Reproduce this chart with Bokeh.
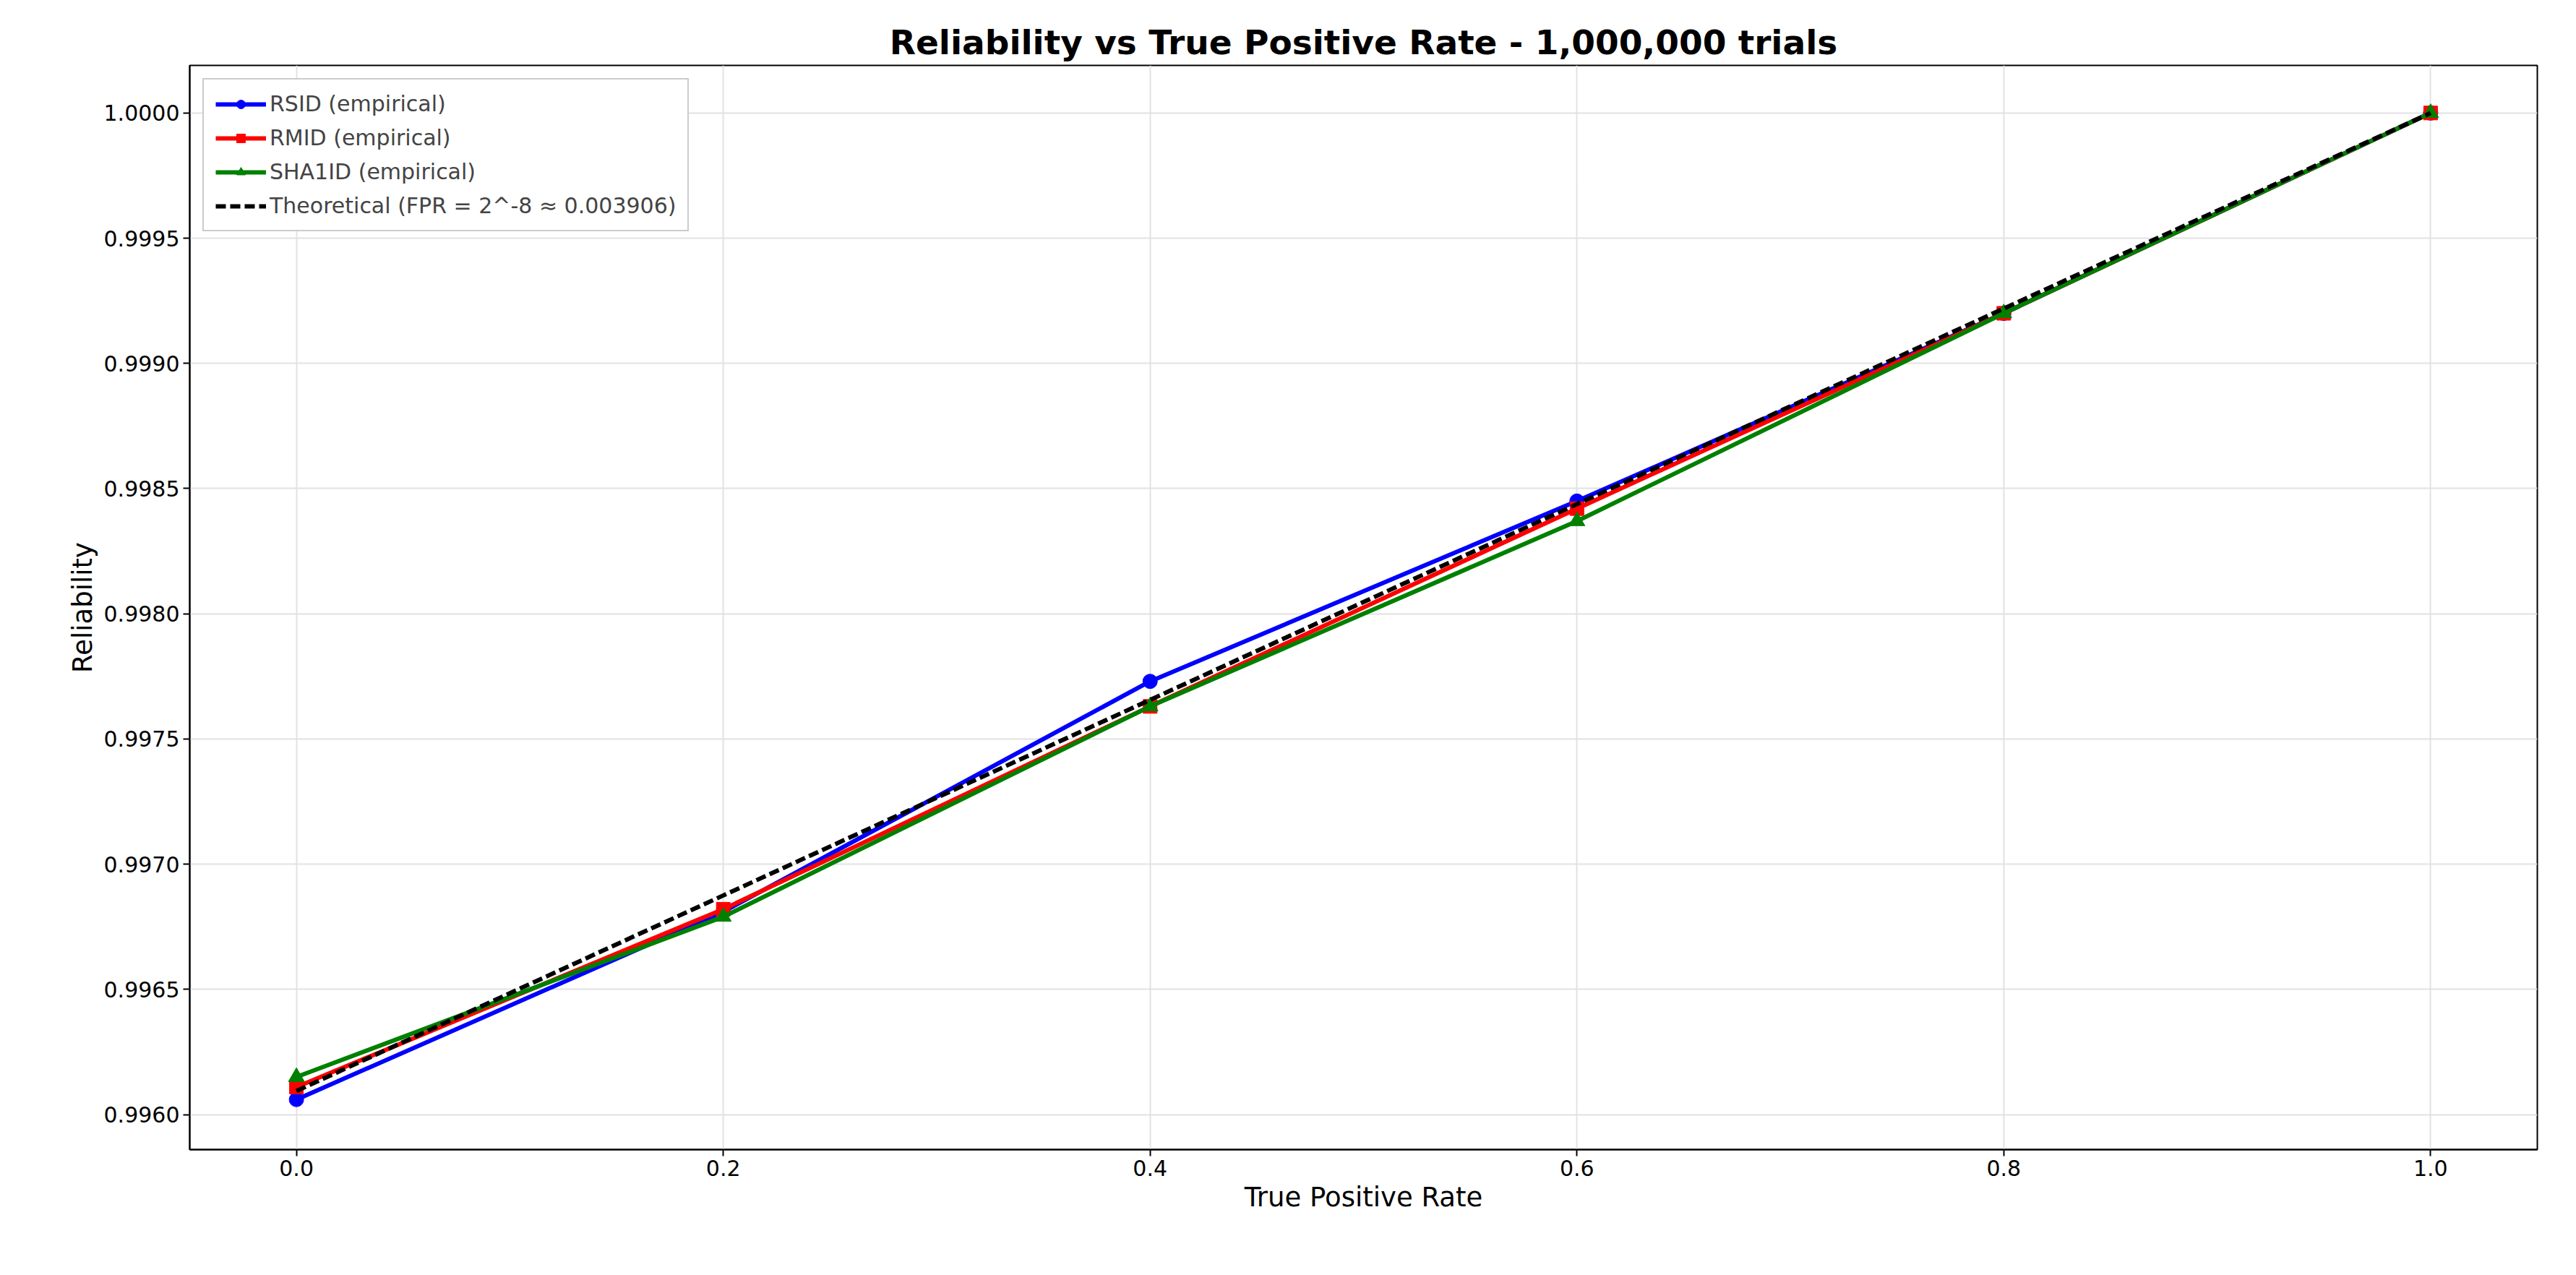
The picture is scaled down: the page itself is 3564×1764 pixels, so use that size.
from bokeh.plotting import figure
from bokeh.models import FixedTicker, NumeralTickFormatter, Range1d, Legend, LegendItem
from bokeh.embed import file_html
from bokeh.resources import INLINE

tpr = [0.0, 0.2, 0.4, 0.6, 0.8, 1.0]
rsid = [0.99606, 0.99681, 0.99773, 0.99845, 0.99920, 1.0000]
rmid = [0.99611, 0.99682, 0.99763, 0.99842, 0.99920, 1.0000]
sha1id = [0.99615, 0.99679, 0.99763, 0.99837, 0.99920, 1.0000]
theory = [0.996094, 0.996875, 0.997656, 0.998438, 0.999219, 1.0000]

x_ticks = [0.0, 0.2, 0.4, 0.6, 0.8, 1.0]
y_ticks = [0.9960, 0.9965, 0.9970, 0.9975, 0.9980, 0.9985, 0.9990, 0.9995, 1.0000]

p = figure(width=3540, height=1740, output_backend="svg", toolbar_location=None,
           x_range=Range1d(-0.05, 1.05), y_range=Range1d(0.99586, 1.00019),
           title="Reliability vs True Positive Rate - 1,000,000 trials",
           x_axis_label="True Positive Rate", y_axis_label="Reliability",
           min_border_left=262, min_border_right=30, min_border_top=90, min_border_bottom=150)

p.title.align = "center"
p.title.text_font = "DejaVu Sans"
p.title.text_font_size = "47px"
p.title.text_font_style = "bold"
p.title.text_color = "black"
for ax in (p.xaxis, p.yaxis):
    ax.axis_label_text_font = "DejaVu Sans"
    ax.axis_label_text_font_size = "37px"
    ax.axis_label_text_font_style = "normal"
    ax.axis_label_text_color = "black"
    ax.major_label_text_font = "DejaVu Sans"
    ax.major_label_text_font_size = "30px"
    ax.major_label_text_color = "black"
    ax.minor_tick_line_color = None
    ax.major_tick_in = 0
    ax.major_tick_out = 9
    ax.major_tick_line_width = 2
    ax.major_tick_line_color = "black"
    ax.axis_line_width = 2
    ax.axis_line_color = "black"
p.xaxis.ticker = FixedTicker(ticks=x_ticks)
p.yaxis.ticker = FixedTicker(ticks=y_ticks)
p.xaxis.formatter = NumeralTickFormatter(format="0.0")
p.yaxis.formatter = NumeralTickFormatter(format="0.0000")
p.grid.grid_line_color = "#e2e2e2"
p.grid.grid_line_width = 2
p.outline_line_color = "black"
p.outline_line_width = 2

r1 = p.line(tpr, rsid, line_color="blue", line_width=6)
m1 = p.scatter(tpr, rsid, marker="circle", size=20, color="blue")
r2 = p.line(tpr, rmid, line_color="red", line_width=6)
m2 = p.scatter(tpr, rmid, marker="square", size=19, color="red")
r3 = p.line(tpr, sha1id, line_color="green", line_width=6)
m3 = p.scatter(tpr, sha1id, marker="triangle", size=22, color="green")
r4 = p.line(tpr, theory, line_color="black", line_width=6, line_dash="14 6")

legend = Legend(items=[
    LegendItem(label="RSID (empirical)", renderers=[r1, m1]),
    LegendItem(label="RMID (empirical)", renderers=[r2, m2]),
    LegendItem(label="SHA1ID (empirical)", renderers=[r3, m3]),
    LegendItem(label="Theoretical (FPR = 2^-8 ≈ 0.003906)", renderers=[r4]),
], location="top_left")
legend.label_text_font = "DejaVu Sans"
legend.label_text_font_size = "30px"
legend.glyph_width = 70
legend.glyph_height = 30
legend.spacing = 12
legend.padding = 16
legend.margin = 18
legend.border_line_color = "#cccccc"
legend.border_line_width = 2
legend.border_line_alpha = 1
p.add_layout(legend)

open("out.html", "w").write(file_html(p, INLINE))
